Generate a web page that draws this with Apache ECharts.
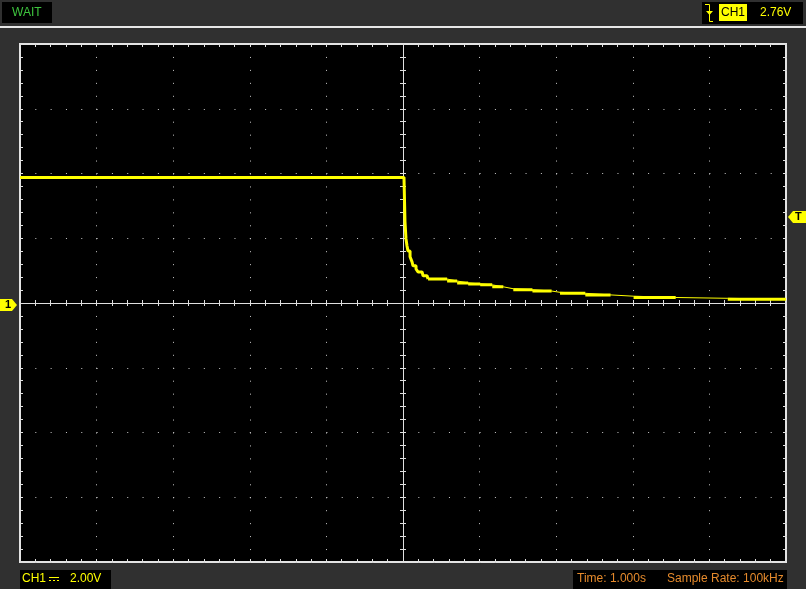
<!DOCTYPE html>
<html><head><meta charset="utf-8">
<script src="https://cdn.jsdelivr.net/npm/echarts@6/dist/echarts.min.js"></script>
<style>html,body{margin:0;padding:0;background:#303030;}#c{width:806px;height:589px;}</style>
</head><body><div id="c"></div>
<script>
// ---- data ----
// steep part of the trace (pre-trigger level and fast initial drop)
const headTime = [-5, 0.013, 0.026, 0.039, 0.052, 0.065, 0.092, 0.118, 0.131, 0.17, 0.196, 0.249, 0.262, 0.314, 0.327];
const headVolt = [3.88, 3.88, 2.51, 1.98, 1.77, 1.61, 1.43, 1.27, 1.15, 1.05, 0.96, 0.90, 0.84, 0.78, 0.74];
// slow tail (quantised steps); tailThick marks the segments drawn as a thick band
const tailTime  = [0.327, 0.576, 0.707, 0.851, 1.008, 1.165, 1.31, 1.44, 1.69, 1.94, 2.05, 2.38, 2.71, 3.01, 3.56, 4.24, 5.0];
const tailVolt  = [0.74, 0.68, 0.62, 0.59, 0.56, 0.50, 0.44, 0.41, 0.37, 0.33, 0.30, 0.25, 0.21, 0.17, 0.145, 0.115, 0.115];
const tailThick = [1, 1, 1, 1, 1, 1, 0, 1, 1, 0, 1, 1, 0, 1, 0, 1];
const timeRange = [-5, 5];      // 10 div x 1.000 s
const voltRange = [-8, 8];      // 8 div x 2.00 V
const timeDiv = 1;
const voltDiv = 2;
const statusText = 'WAIT';
const trigSource = 'CH1';
const trigLevel = '2.76V';
const chLabel = 'CH1';
const chScale = '2.00V';
const timeText = 'Time: 1.000s';
const rateText = 'Sample Rate: 100kHz';

const TICK = '#e0e0e0', DOT = '#c8c8c8', YEL = '#ffff00', ORG = '#e58a2c', GRN = '#3ec43e';
const FONT = '12px "Liberation Sans", Arial, sans-serif';

function xAx(pos, onZero, inside, split) {
  return {
    type: 'value', min: timeRange[0], max: timeRange[1], interval: timeDiv, position: pos,
    axisLabel: { show: false },
    axisLine: { show: onZero, onZero: onZero, onZeroAxisIndex: 0, lineStyle: { color: TICK, width: 1 } },
    axisTick: { show: true, inside: inside, length: 3, lineStyle: { color: TICK } },
    minorTick: { show: true, splitNumber: 5, length: 3, lineStyle: { color: TICK } },
    splitLine: { show: split, lineStyle: { color: DOT, width: 1, type: [1, 11.95] } },
    minorSplitLine: { show: false }
  };
}
function yAx(pos, onZero, inside, split) {
  return {
    type: 'value', min: voltRange[0], max: voltRange[1], interval: voltDiv, position: pos,
    axisLabel: { show: false },
    axisLine: { show: onZero, onZero: onZero, onZeroAxisIndex: 0, lineStyle: { color: TICK, width: 1 } },
    axisTick: { show: true, inside: inside, length: 3, lineStyle: { color: TICK } },
    minorTick: { show: true, splitNumber: 5, length: 3, lineStyle: { color: TICK } },
    splitLine: { show: split, lineStyle: { color: DOT, width: 1, type: [1, 14.32] } },
    minorSplitLine: { show: false }
  };
}

// thick plateau bands of the tail, separated by gaps
const thickData = [];
tailThick.forEach((k, i) => {
  if (k) { thickData.push([tailTime[i], tailVolt[i]], [tailTime[i + 1], tailVolt[i]], [tailTime[i + 1], '-']); }
});

const chart = echarts.init(document.getElementById('c'), null, { renderer: 'canvas' });
const txt = (x, y, t, fill, extra) => ({ type: 'text', x: x, y: y, z: 10,
  style: Object.assign({ text: t, fill: fill, font: FONT, textVerticalAlign: 'middle', verticalAlign: 'middle' }, extra || {}) });

chart.setOption({
  backgroundColor: '#303030',
  animation: false,
  grid: { left: 20, top: 44, width: 766, height: 518, show: true, backgroundColor: '#000', borderColor: '#e4e4e4', borderWidth: 2, containLabel: false },
  xAxis: [xAx('bottom', false, true, true), xAx('top', false, true, false), xAx('bottom', true, true, false), xAx('bottom', true, false, false)],
  yAxis: [yAx('left', false, true, true), yAx('right', false, true, false), yAx('left', true, true, false), yAx('left', true, false, false)],
  series: [
    { type: 'line', xAxisIndex: 0, yAxisIndex: 0, step: 'end', symbol: 'none', z: 5,
      lineStyle: { color: YEL, width: 3 }, data: headTime.map((t, i) => [t, headVolt[i]]) },
    { type: 'line', xAxisIndex: 0, yAxisIndex: 0, step: 'end', symbol: 'none', z: 5,
      lineStyle: { color: YEL, width: 1 }, data: tailTime.map((t, i) => [t, tailVolt[i]]) },
    { type: 'line', xAxisIndex: 0, yAxisIndex: 0, symbol: 'none', z: 5, connectNulls: false,
      lineStyle: { color: YEL, width: 3, cap: 'butt' }, data: thickData }
  ],
  graphic: [
    { type: 'rect', shape: { x: 0, y: 26, width: 806, height: 2 }, style: { fill: '#e6e6e6' } },
    { type: 'rect', shape: { x: 2, y: 2, width: 50, height: 21 }, style: { fill: '#000' } },
    txt(12, 13, statusText, GRN),
    { type: 'rect', shape: { x: 702, y: 2, width: 101, height: 22 }, style: { fill: '#000' } },
    { type: 'polyline', shape: { points: [[705, 4.5], [709.5, 4.5], [709.5, 21.5], [713, 21.5]] }, style: { stroke: YEL, lineWidth: 1, fill: null } },
    { type: 'polygon', shape: { points: [[706, 11], [713, 11], [709.5, 15]] }, style: { fill: YEL } },
    { type: 'rect', shape: { x: 719, y: 4, width: 28, height: 17 }, style: { fill: YEL } },
    txt(721, 13, trigSource, '#000'),
    txt(760, 13, trigLevel, YEL),
    { type: 'rect', shape: { x: 20, y: 570, width: 91, height: 19 }, style: { fill: '#000' } },
    txt(22, 579, chLabel, YEL),
    { type: 'line', shape: { x1: 49, y1: 577.5, x2: 59, y2: 577.5 }, style: { stroke: YEL, lineWidth: 1 } },
    { type: 'line', shape: { x1: 49, y1: 580.5, x2: 59, y2: 580.5 }, style: { stroke: YEL, lineWidth: 1, lineDash: [2, 2] } },
    txt(70, 579, chScale, YEL),
    { type: 'rect', shape: { x: 573, y: 570, width: 214, height: 19 }, style: { fill: '#000' } },
    txt(577, 579, timeText, ORG),
    txt(667, 579, rateText, ORG),
    { type: 'polygon', shape: { points: [[0, 299], [12, 299], [17, 305], [12, 311], [0, 311]] }, style: { fill: YEL } },
    txt(5, 305, '1', '#000', { font: 'bold 11px "Liberation Sans", Arial, sans-serif' }),
    { type: 'polygon', shape: { points: [[788, 217], [793, 211], [806, 211], [806, 223], [793, 223]] }, style: { fill: YEL } },
    txt(795, 217, 'T', '#000', { font: 'bold 11px "Liberation Sans", Arial, sans-serif' })
  ]
});
</script></body></html>
